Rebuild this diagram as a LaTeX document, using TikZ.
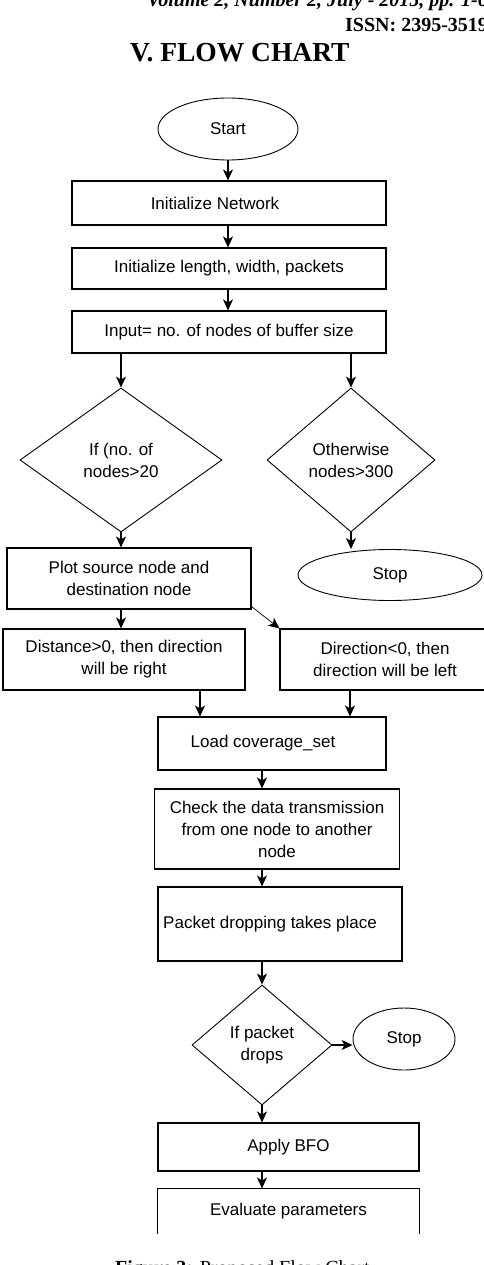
\documentclass[tikz,border=0pt]{standalone}
\usepackage{fontspec}
\setmainfont{Liberation Sans}
\newfontfamily\tnr{Liberation Serif}
\usetikzlibrary{shapes.geometric,arrows.meta}
\tikzset{
  box/.style={draw, line width=1.1pt, rectangle, inner sep=0pt, align=center, font=\fontsize{17}{22}\selectfont},
  oval/.style={draw, line width=0.9pt, ellipse, inner sep=0pt, align=center, font=\fontsize{17}{22}\selectfont},
  dia/.style={draw, line width=0.9pt, diamond, inner sep=0pt, align=center, font=\fontsize{17}{22}\selectfont},
  arr/.style={line width=1.1pt, -{Stealth[length=11pt,width=10pt,inset=3pt]}},
  hdr/.style={inner sep=0pt, anchor=base west}
}
\begin{document}
\begin{tikzpicture}[x=1pt,y=-1pt]
\useasboundingbox (0,0) rectangle (483,1265);
% header
\node[hdr, font=\tnr\bfseries\itshape\fontsize{20}{24}\selectfont] (vol) at (147,7) {Volume 2, Number 2, July - 2015, pp. 1-6};
\node[hdr, font=\tnr\bfseries\fontsize{20}{24}\selectfont] (issn) at (345,32) {ISSN: 2395-3519};
\node[hdr, font=\tnr\bfseries\fontsize{27.5}{32}\selectfont] (title) at (130,62) {V. FLOW CHART};
% nodes
\node[oval, minimum width=140pt, minimum height=62pt] (start) at (228,129) {Start};
\node[box, minimum width=314pt, minimum height=44pt] (b1) at (229,203) {Initialize Network\hspace*{28pt}};
\node[box, minimum width=314pt, minimum height=41pt] (b2) at (229,268.5) {Initialize length, width, packets};
\node[box, minimum width=314pt, minimum height=42pt] (b3) at (229,332) {Input= no. of nodes of buffer size};
\node[dia, minimum width=202pt, minimum height=144pt] (d1) at (121,460) {If (no. of\\nodes>20};
\node[dia, minimum width=168pt, minimum height=144pt] (d2) at (351,460) {Otherwise\\nodes>300};
\node[box, minimum width=244pt, minimum height=61pt] (b4) at (129,578.5) {Plot source node and\\destination node};
\node[oval, minimum width=184pt, minimum height=51pt] (s1) at (390,575) {Stop};
\node[box, minimum width=242pt, minimum height=61pt] (b5) at (124,659.5) {Distance>0, then direction\\will be right};
\node[box, minimum width=210pt, minimum height=61pt] (b6) at (385,659.5) {Direction<0, then\\direction will be left};
\node[box, minimum width=228pt, minimum height=53pt] (b7) at (272,743.5) {Load coverage\_set\hspace*{18pt}};
\node[box, minimum width=245pt, minimum height=80pt] (b8) at (277,829) {Check the data transmission\\from one node to another\\node};
\node[box, minimum width=244pt, minimum height=74pt] (b9) at (280,924) {Packet dropping takes place\hspace*{20pt}};
\node[dia, minimum width=140pt, minimum height=120pt] (d3) at (262,1045) {If packet\\drops};
\node[oval, minimum width=102pt, minimum height=62pt] (s2) at (404,1039) {Stop};
\node[box, minimum width=261pt, minimum height=48pt] (b10) at (288.5,1147) {Apply BFO};
\node[box, draw=none, minimum width=261pt, minimum height=44pt] (b11) at (288.5,1211) {Evaluate parameters};
\draw[line width=1.1pt] (b11.south west) -- (b11.north west) -- (b11.north east) -- (b11.south east);
% caption
\node[hdr, font=\tnr\fontsize{20}{24}\selectfont] (cap) at (115,1274) {\textbf{Figure 3:} Proposed Flow Chart};
% connectors
\draw[arr] (start.south) -- (start.south |- b1.north);
\draw[arr] (b1.south -| start.south) -- (b2.north -| start.south);
\draw[arr] (b2.south -| start.south) -- (b3.north -| start.south);
\draw[arr] (b3.south -| d1.north) -- (d1.north);
\draw[arr] (b3.south -| d2.north) -- (d2.north);
\draw[arr] (d1.south) -- (d1.south |- b4.north);
\draw[arr] (d2.south) -- (d2.south |- s1.north);
\draw[arr] (b4.south -| d1.south) -- (b5.north -| d1.south);
\draw[arr, line width=0.7pt] ([yshift=3pt]b4.south east) -- (b6.north west);
\draw[arr] ([xshift=-72pt]b7.north |- b5.south) -- ([xshift=-72pt]b7.north);
\draw[arr] ([xshift=78pt]b7.north |- b6.south) -- ([xshift=78pt]b7.north);
\draw[arr] (b7.south -| d3.north) -- (b8.north -| d3.north);
\draw[arr] (b8.south -| d3.north) -- (b9.north -| d3.north);
\draw[arr] (b9.south -| d3.north) -- (d3.north);
\draw[arr] (d3.east) -- (d3.east -| s2.west);
\draw[arr] (d3.south) -- (d3.south |- b10.north);
\draw[arr] (b10.south -| d3.north) -- (b11.north -| d3.north);
\end{tikzpicture}
\end{document}
